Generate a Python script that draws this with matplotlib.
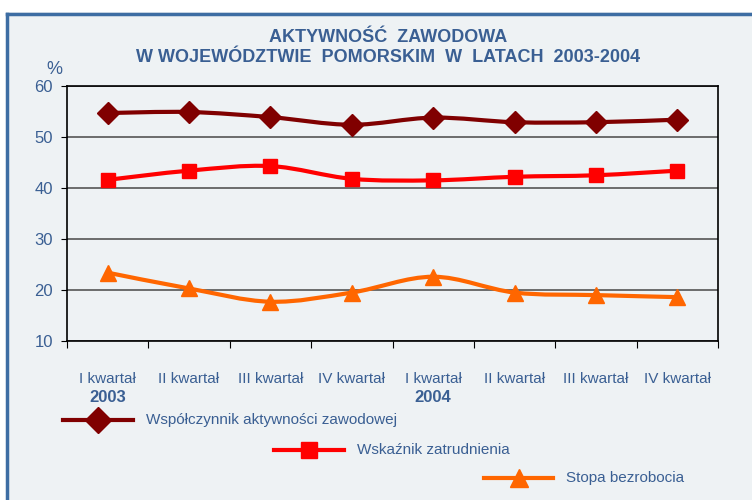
import numpy as np
import matplotlib.pyplot as plt
from matplotlib.path import Path
from matplotlib.patches import PathPatch, Rectangle
from matplotlib.lines import Line2D

# dane
quarters = ['I kwartał', 'II kwartał', 'III kwartał', 'IV kwartał',
            'I kwartał', 'II kwartał', 'III kwartał', 'IV kwartał']
years = ['2003', '2004']
aktywnosc = [54.7, 54.9, 53.9, 52.4, 53.8, 52.9, 52.9, 53.4]
zatrudnienie = [41.6, 43.4, 44.3, 41.8, 41.5, 42.2, 42.5, 43.4]
bezrobocie = [23.4, 20.3, 17.7, 19.5, 22.6, 19.5, 19.0, 18.6]
names = ['Współczynnik aktywności zawodowej', 'Wskaźnik zatrudnienia', 'Stopa bezrobocia']

blue_txt = '#3A5F93'
bg = '#EEF2F4'

plt.rcParams['font.family'] = ['Liberation Sans Narrow', 'Liberation Sans', 'DejaVu Sans']


def smooth_path(x, y):
    # gladka linia jak w Excelu (krzywe Beziera przez punkty)
    pts = np.column_stack([x, y]).astype(float)
    n = len(pts)
    verts = [pts[0]]
    codes = [Path.MOVETO]
    for i in range(n - 1):
        p0 = pts[max(i - 1, 0)]
        p1 = pts[i]
        p2 = pts[i + 1]
        p3 = pts[min(i + 2, n - 1)]
        c1 = p1 + (p2 - p0) / 6.0
        c2 = p2 - (p3 - p1) / 6.0
        verts += [c1, c2, p2]
        codes += [Path.CURVE4] * 3
    return Path(verts, codes)


fig = plt.figure(figsize=(7.52, 5.0), dpi=100)
fig.patch.set_facecolor(bg)

# biale pole i niebieska ramka
fig.add_artist(Rectangle((0, 1 - 12 / 500), 1, 12 / 500, transform=fig.transFigure,
                         facecolor='white', edgecolor='none', zorder=0))
fig.add_artist(Rectangle((0, 0), 6 / 752, 1, transform=fig.transFigure,
                         facecolor='white', edgecolor='none', zorder=0))
fig.add_artist(Line2D([7 / 752, 1], [1 - 14 / 500, 1 - 14 / 500], transform=fig.transFigure,
                      color='#3D6DA3', lw=2.5))
fig.add_artist(Line2D([7 / 752, 7 / 752], [0, 1 - 14 / 500], transform=fig.transFigure,
                      color='#3D6DA3', lw=2.5))

ax = fig.add_axes([67 / 752, 1 - 341 / 500, 651 / 752, 255 / 500])
ax.set_facecolor('none')

x = np.arange(len(quarters))
series = [
    (aktywnosc, '#800000', 'D', 11),
    (zatrudnienie, '#FF0000', 's', 10),
    (bezrobocie, '#FF6600', '^', 11),
]
for vals, col, mk, ms in series:
    ax.add_patch(PathPatch(smooth_path(x, vals), facecolor='none', edgecolor=col,
                           lw=3, zorder=3, capstyle='round'))
    ax.plot(x, vals, linestyle='none', marker=mk, color=col, markersize=ms, zorder=4)

ax.set_xlim(-0.5, len(quarters) - 0.5)
ax.set_ylim(10, 60)
ax.set_yticks([10, 20, 30, 40, 50, 60])
ax.yaxis.grid(True, color='#555555', lw=1.2)
ax.set_axisbelow(True)
for s in ax.spines.values():
    s.set_color('black')
    s.set_linewidth(1.2)

ax.set_xticks(np.arange(-0.5, len(quarters), 1.0))
ax.set_xticklabels([])
ax.set_xticks(x, minor=True)
ax.set_xticklabels(quarters, minor=True)
ax.tick_params(axis='x', which='major', direction='out', length=5, color='black')
ax.tick_params(axis='x', which='minor', length=0, pad=22, labelsize=11, labelcolor=blue_txt)
ax.tick_params(axis='y', direction='out', length=4, labelsize=12, labelcolor=blue_txt, pad=6)

for i, yr in enumerate(years):
    ax.text(i * 4, -0.22, yr, transform=ax.get_xaxis_transform(), ha='center', va='center',
            fontsize=12, fontweight='bold', color=blue_txt)

fig.text(62 / 752, 1 - 70 / 500, '%', fontsize=13, color=blue_txt, ha='right', va='center')

fig.text(388 / 752, 1 - 38 / 500, 'AKTYWNOŚĆ  ZAWODOWA', ha='center', va='center',
         fontsize=13, fontweight='bold', color=blue_txt)
fig.text(388 / 752, 1 - 57 / 500, 'W WOJEWÓDZTWIE  POMORSKIM  W  LATACH  2003-2004',
         ha='center', va='center', fontsize=13, fontweight='bold', color=blue_txt)

# legenda schodkowa
leg = [(63, 133, 420), (274, 344, 450), (484, 553, 478)]
for (x0, x1, yy), (vals, col, mk, ms), name in zip(leg, series, names):
    fy = 1 - yy / 500
    fig.add_artist(Line2D([x0 / 752, x1 / 752], [fy, fy], transform=fig.transFigure,
                          color=col, lw=3))
    fig.add_artist(Line2D([(x0 + x1) / 2 / 752], [fy], transform=fig.transFigure,
                          color=col, marker=mk, markersize=ms + 2, linestyle='none'))
    fig.text((x1 + 13) / 752, fy, name, ha='left', va='center', fontsize=11, color=blue_txt)

fig.savefig('out.png', dpi=100, facecolor=fig.get_facecolor())
